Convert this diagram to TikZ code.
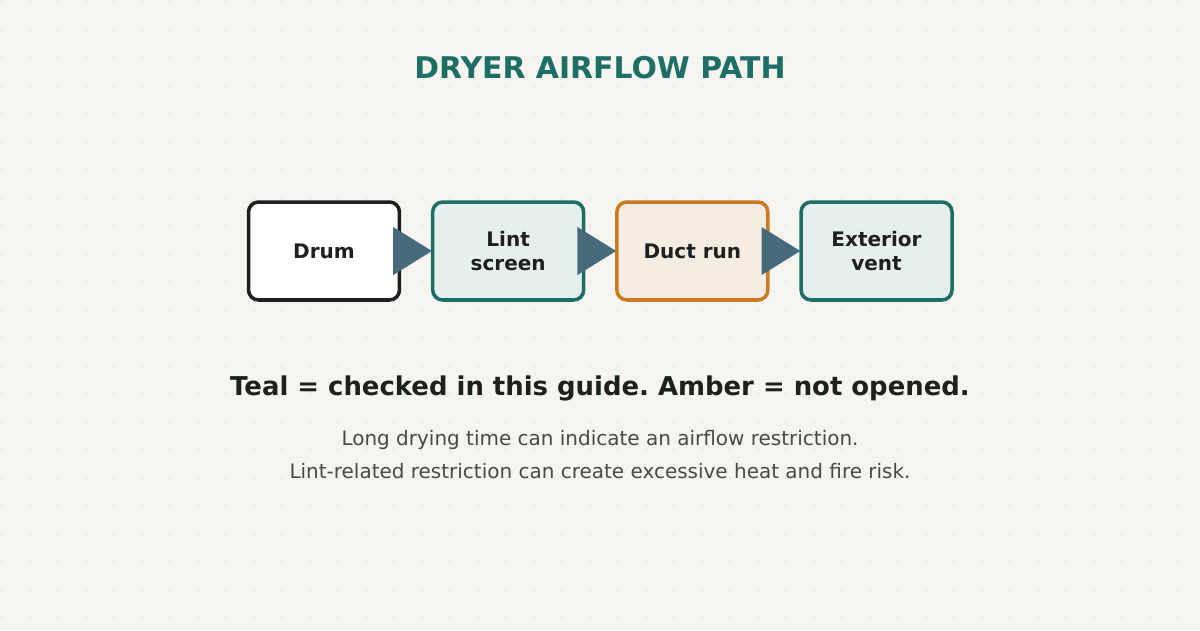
\documentclass[tikz,border=0pt]{standalone}
\usepackage{fontspec}
\setmainfont{DejaVu Sans}
\frenchspacing
\usetikzlibrary{positioning, calc}

\definecolor{paper}{HTML}{F5F4EE}
\definecolor{griddot}{HTML}{E4E2DA}
\definecolor{inkdark}{HTML}{1C211E}
\definecolor{inkgray}{HTML}{454B47}
\definecolor{tealline}{HTML}{1D6E64}
\definecolor{tealfill}{HTML}{E6EFEE}
\definecolor{amberline}{HTML}{C97A22}
\definecolor{amberfill}{HTML}{F5ECE2}
\definecolor{flowblue}{HTML}{466A7C}

\tikzset{
  stage/.style={rounded corners=0.2cm, line width=2pt, minimum width=3.02cm,
    minimum height=1.96cm, align=center, text=inkdark,
    font=\fontsize{11.4}{13.6}\selectfont\bfseries},
  drumbox/.style={stage, draw=inkdark, fill=white},
  tealbox/.style={stage, draw=tealline, fill=tealfill},
  amberbox/.style={stage, draw=amberline, fill=amberfill},
  flowtip/.style={fill=flowblue}
}

\begin{document}
\begin{tikzpicture}[x=0.02cm, y=-0.02cm, node distance=0.594cm]

    % Page and dotted paper
    \useasboundingbox (0,0) rectangle (1200,630);
    \fill[paper] (0,0) rectangle (1200,630);
    \foreach \gx in {2,30,...,1198}
      \foreach \gy in {2,30,...,628}
        \fill[griddot] (\gx,\gy) circle (1.1);

    % Title
    \node[text=tealline, font=\fontsize{17}{20}\selectfont\bfseries] (title) at (600,68) {DRYER AIRFLOW PATH};

    % Stages of the airflow path
    \node[drumbox] (drum) at (324,251) {Drum};
    \node[tealbox, right=of drum] (lint) {Lint\\screen};
    \node[amberbox, right=of lint] (duct) {Duct run};
    \node[tealbox, right=of duct] (vent) {Exterior\\vent};

    % Flow arrows between the stages
    \foreach \from/\to in {drum/lint, lint/duct, duct/vent}
      \fill[flowtip] ($(\from.east)+(-8,-24)$) -- ($(\from.east)+(-8,24)$) -- ($(\to.west)+(1,0)$) -- cycle;

    % Legend
    \node[text=inkdark, font=\fontsize{14.75}{18}\selectfont\bfseries] (legend) at (600,388)
      {Teal = checked in this guide. Amber = not opened.};

    % Notes
    \node[text=inkgray, font=\fontsize{11.37}{13}\selectfont] (noteA) at (600,440)
      {Long drying time can indicate an airflow restriction.};
    \node[text=inkgray, font=\fontsize{11.37}{13}\selectfont] (noteB) at (600,471)
      {Lint-related restriction can create excessive heat and fire risk.};

\end{tikzpicture}
\end{document}
